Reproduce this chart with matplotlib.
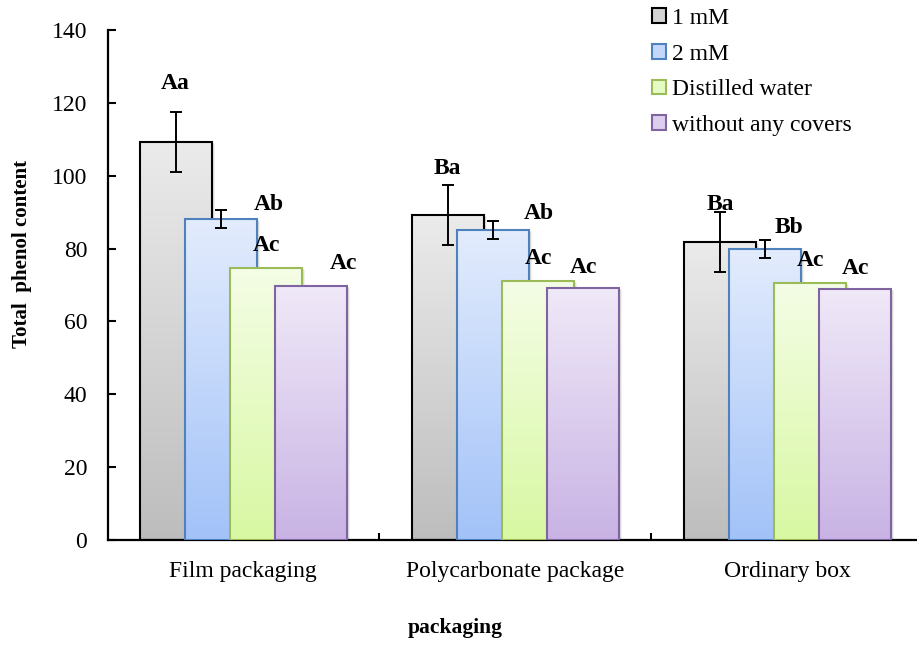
import numpy as np
import matplotlib
matplotlib.use("Agg")
import matplotlib.pyplot as plt
from matplotlib.patches import Rectangle, Patch
from matplotlib import transforms

# ---- data -------------------------------------------------------------
categories = ["Film packaging", "Polycarbonate package", "Ordinary box"]
series_names = ["1 mM", "2 mM", "Distilled water", "without any covers"]

values_1mM = [109.3, 89.2, 81.9]
values_2mM = [88.1, 85.1, 79.8]
values_water = [74.6, 71.2, 70.6]
values_nocover = [69.8, 69.1, 68.8]

err_1mM = [8.2, 8.3, 8.2]
err_2mM = [2.5, 2.5, 2.5]

letters_1mM = ["Aa", "Ba", "Ba"]
letters_2mM = ["Ab", "Ab", "Bb"]
letters_water = ["Ac", "Ac", "Ac"]
letters_nocover = ["Ac", "Ac", "Ac"]

yticks = [0, 20, 40, 60, 80, 100, 120, 140]

# ---- styling ------------------------------------------------------------
plt.rcParams["font.family"] = ["Liberation Serif", "DejaVu Serif"]

# (top colour, bottom colour, edge colour) for each series
styles = [
    ("#ebebeb", "#bdbdbd", "#000000"),
    ("#e3ecfd", "#a2c2f8", "#4f81bd"),
    ("#f4fde6", "#d8f8a2", "#9bbb59"),
    ("#f0e9f8", "#c8b3e4", "#8064a2"),
]

# letter placement (x offset from group centre, baseline height)
letter_dx = [
    [-0.249, -0.249, -0.247],
    [0.094, 0.085, 0.006],
    [0.086, 0.085, 0.086],
    [0.367, 0.250, 0.252],
]
letter_base = [
    [123.9, 100.6, 90.5],
    [90.6, 88.0, 84.3],
    [79.4, 75.7, 75.1],
    [74.3, 73.4, 73.1],
]

W, H, DPI = 917, 647, 100
fig = plt.figure(figsize=(W / DPI, H / DPI), dpi=DPI)
ax = fig.add_axes([108 / W, (H - 540) / H, (W - 108) / W, 510 / H])

values = [values_1mM, values_2mM, values_water, values_nocover]
errors = [err_1mM, err_2mM, None, None]
letters = [letters_1mM, letters_2mM, letters_water, letters_nocover]

x = np.arange(len(categories))
step = 0.1654
width = 0.265


def hex2rgb(h):
    h = h.lstrip("#")
    return np.array([int(h[i:i + 2], 16) / 255 for i in (0, 2, 4)])


for s, (vals, (ctop, cbot, cedge)) in enumerate(zip(values, styles)):
    z = 2 + s
    centers = x + (s - 1.5) * step
    grad = np.linspace(0, 1, 256)[:, None, None]
    img = hex2rgb(ctop) * (1 - grad) + hex2rgb(cbot) * grad
    for cx, v in zip(centers, vals):
        x0 = cx - width / 2
        # soft drop shadow
        for dx, dy, a in [(3, -2, 0.06), (2, -1, 0.08), (1, 0, 0.10)]:
            tr = transforms.offset_copy(ax.transData, fig=fig, x=dx, y=dy, units="dots")
            ax.add_patch(Rectangle((x0, 0), width, v, facecolor="black", alpha=a,
                                   edgecolor="none", transform=tr, zorder=z - 0.2))
        ax.imshow(img, extent=(x0, x0 + width, 0, v), aspect="auto",
                  origin="upper", interpolation="bilinear", zorder=z)
        ax.add_patch(Rectangle((x0, 0), width, v, facecolor="none",
                               edgecolor=cedge, linewidth=1.5, zorder=z + 0.1))
    if errors[s] is not None:
        ax.errorbar(centers, vals, yerr=errors[s], fmt="none", ecolor="black",
                    elinewidth=1.4, capsize=4.5, capthick=1.4, zorder=z + 0.2)
    for g in range(len(categories)):
        ax.text(x[g] + letter_dx[s][g], letter_base[s][g], letters[s][g],
                ha="center", va="baseline", fontsize=17, fontweight="bold",
                zorder=10)

ax.set_xlim(-0.4974, 2.4768)
ax.set_ylim(0, 140)
ax.set_yticks(yticks)
ax.set_xticks(x)
ax.set_xticklabels(categories)
ax.set_xticks([0.5, 1.5], minor=True)

for sp in ["top", "right"]:
    ax.spines[sp].set_visible(False)
for sp in ["left", "bottom"]:
    ax.spines[sp].set_linewidth(1.6)
    ax.spines[sp].set_color("black")

ax.tick_params(axis="y", direction="in", length=5.5, width=1.5, labelsize=17, pad=15)
ax.tick_params(axis="x", which="major", length=0, labelsize=17, pad=15)
ax.tick_params(axis="x", which="minor", direction="in", length=5, width=1.5)

ax.set_ylabel("Total  phenol content", fontsize=15, fontweight="bold")
ax.yaxis.set_label_coords(-0.106, 0.561)
ax.yaxis.label.set_va("center")
ax.set_xlabel("packaging", fontsize=15.5, fontweight="bold")
ax.xaxis.set_label_coords(0.429, -0.1725)
ax.xaxis.label.set_va("center")

handles = [Patch(facecolor=hex2rgb(t) * 0.5 + hex2rgb(b) * 0.5, edgecolor=e, linewidth=1.5)
           for t, b, e in styles]
fig.legend(handles, series_names, loc="upper left",
           bbox_to_anchor=(652 / W, 1 - 8 / H), frameon=False, fontsize=17,
           handlelength=0.58, handleheight=0.58, handletextpad=0.25,
           labelspacing=0.62, borderpad=0, borderaxespad=0)

fig.savefig("out.png", dpi=DPI)
